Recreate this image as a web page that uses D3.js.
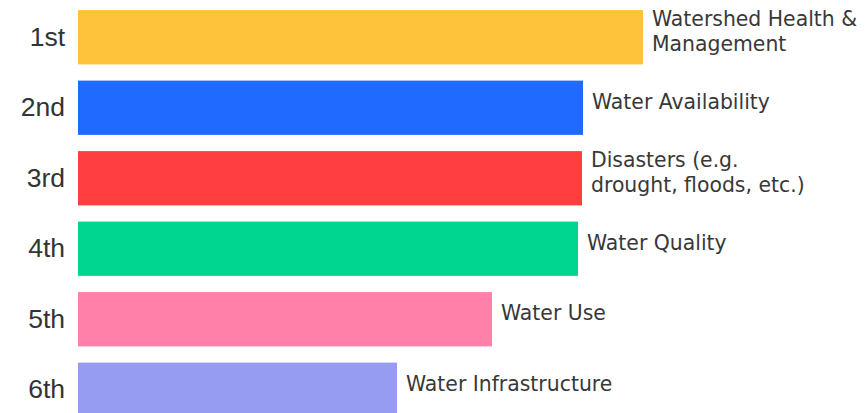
<!DOCTYPE html>
<html><head><meta charset="utf-8">
<script src="https://cdn.jsdelivr.net/npm/d3@7"></script>
<style>body{margin:0;background:#fff;overflow:hidden}</style>
</head><body>
<svg id="c" width="865" height="413"></svg>
<script>
const ranks = ["1st","2nd","3rd","4th","5th","6th"];
const categories = [["Watershed Health &","Management"],["Water Availability"],["Disasters (e.g.","drought, floods, etc.)"],["Water Quality"],["Water Use"],["Water Infrastructure"]];
const values = [56.5, 50.5, 50.4, 50.0, 41.4, 31.9];
const colors = ["#FFC23A","#1F6BFF","#FF3F3F","#00D68F","#FF80A8","#979CF3"];

const svg = d3.select("#c");
const x = d3.scaleLinear().domain([0,100]).range([78, 1078]);
const y = d3.scaleBand().domain(ranks).range([2, 425]).paddingInner(0.23).paddingOuter(0.115);

svg.selectAll("rect.bar").data(ranks).join("rect").attr("class","bar")
  .attr("x", x(0)).attr("y", d=>y(d)).attr("height", y.bandwidth())
  .attr("width", (d,i)=>x(values[i])-x(0)).attr("fill",(d,i)=>colors[i]);

svg.selectAll("text.rank").data(ranks).join("text").attr("class","rank")
  .attr("x", 65).attr("y", d=>y(d)+y.bandwidth()/2 + 8.5)
  .attr("text-anchor","end").attr("font-family","Liberation Sans, Arial, sans-serif")
  .attr("font-size",26.5).attr("fill","#333").text(d=>d);

const lab = svg.selectAll("text.cat").data(ranks).join("text").attr("class","cat")
  .attr("font-family","'DejaVu Sans', sans-serif").attr("font-size",20.4).attr("fill","#383838");
lab.each(function(d,i){
  const lines = categories[i];
  const n = lines.length;
  const cy = y(d)+y.bandwidth()/2 + 1;
  d3.select(this).selectAll("tspan").data(lines).join("tspan")
    .attr("x", x(values[i])+9)
    .attr("y",(l,j)=> cy + (j-(n-1)/2)*25)
    .text(l=>l);
});
</script>
</body></html>
